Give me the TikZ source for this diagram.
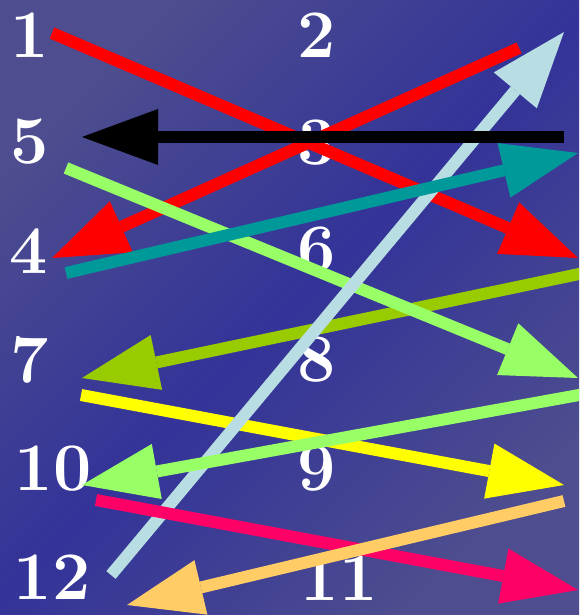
\documentclass[tikz,border=0pt]{standalone}
\usetikzlibrary{arrows.meta}
\definecolor{bgl}{RGB}{77,77,143}
\definecolor{bgd}{RGB}{51,51,153}
\definecolor{cred}{RGB}{255,0,0}
\definecolor{cblue}{RGB}{184,222,227}
\definecolor{cteal}{RGB}{0,153,153}
\definecolor{cgreen}{RGB}{153,255,102}
\definecolor{colive}{RGB}{153,204,0}
\definecolor{cyellow}{RGB}{255,255,0}
\definecolor{cpink}{RGB}{255,0,102}
\definecolor{corange}{RGB}{255,204,102}
\tikzset{
  num/.style={text=white, inner sep=0pt, font=\fontsize{68}{68}\selectfont\bfseries},
  arr/.style={line width=12pt, -{Triangle[length=76pt,width=56pt,line width=0pt]}}
}
\begin{document}
\begin{tikzpicture}[x=1pt,y=-1pt]
\clip (0,0) rectangle (579,615);
\shade[shading=axis, top color=bgl, bottom color=bgl, middle color=bgd, shading angle=45] (0,0) rectangle (579,615);
% labels
\node[num] (n1) at (30,35) {1};
\node[num] (n2) at (317,35) {2};
\node[num] (n5) at (30,142) {5};
\node[num] (n3) at (317,143) {3};
\node[num] (n4) at (29,251) {4};
\node[num] (n6) at (317,250) {6};
\node[num] (n7) at (30,360) {7};
\node[num] (n8) at (317,360) {8};
\node[num] (n10) at (53,469) {10};
\node[num] (n9) at (317,469) {9};
\node[num] (n12) at (52,577) {12};
\node[num] (n11) at (339,578) {11};
% end points
\coordinate (a1s) at (52,33);   \coordinate (a1e) at (578,258);
\coordinate (a2s) at (519,48);  \coordinate (a2e) at (52,258);
\coordinate (a3s) at (564,137); \coordinate (a3e) at (82,137);
\coordinate (a4s) at (111,575); \coordinate (a4e) at (564,32);
\coordinate (a5s) at (66,273);  \coordinate (a5e) at (578,153);
\coordinate (a6s) at (66,168);  \coordinate (a6e) at (578,378);
\coordinate (a7s) at (590,271.7); \coordinate (a7e) at (82,378);
\coordinate (a8s) at (81,395);  \coordinate (a8e) at (564,485);
\coordinate (a9s) at (590,393); \coordinate (a9e) at (82,485);
\coordinate (a10s) at (96,500); \coordinate (a10e) at (578,590);
\coordinate (a11s) at (564,501); \coordinate (a11e) at (127,605);
% arrows
\draw[arr, cred] (a1s) -- (a1e);
\draw[arr, cred] (a2s) -- (a2e);
\draw[arr, colive] (a7s) -- (a7e);
\draw[arr, cgreen] (a6s) -- (a6e);
\draw[arr, cyellow] (a8s) -- (a8e);
\draw[arr, cblue] (a4s) -- (a4e);
\draw[arr, black, line width=12.5pt] (a3s) -- (a3e);
\draw[arr, cteal] (a5s) -- (a5e);
\draw[arr, cgreen] (a9s) -- (a9e);
\draw[arr, cpink] (a10s) -- (a10e);
\draw[arr, corange] (a11s) -- (a11e);
\end{tikzpicture}
\end{document}
